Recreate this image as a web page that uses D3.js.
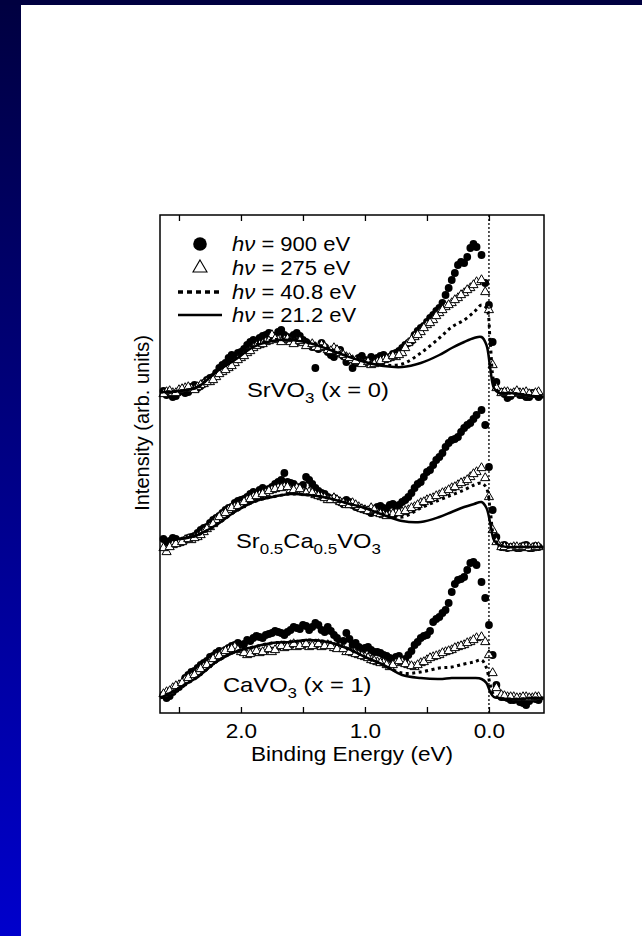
<!DOCTYPE html>
<html>
<head>
<meta charset="utf-8">
<script src="https://cdn.jsdelivr.net/npm/d3@7"></script>
<style>
  body { margin: 0; background: #fff; }
  svg { display: block; font-family: "Liberation Sans", Arial, Helvetica, sans-serif; }
</style>
</head>
<body>
<svg width="642" height="936"></svg>
<script>
// binding energy (eV) of the line spectra (40.8 eV and 21.2 eV)
const lineE = [2.65, 2.50, 2.35, 2.20, 2.05, 1.90, 1.75, 1.60, 1.45, 1.30, 1.15, 1.00, 0.85, 0.70,
               0.55, 0.40, 0.30, 0.20, 0.12, 0.06, 0.02, -0.01, -0.04, -0.08, -0.15, -0.25, -0.35, -0.44];
// binding energy (eV) of the marker spectra (900 eV and 275 eV), two interleaved scans
const markE = [2.60, 2.55, 2.50, 2.45, 2.40, 2.35, 2.30, 2.25, 2.20, 2.15,
               2.10, 2.05, 2.00, 1.95, 1.90, 1.85, 1.80, 1.75, 1.70, 1.65,
               1.60, 1.55, 1.50, 1.45, 1.40, 1.35, 1.30, 1.25, 1.20, 1.15,
               1.10, 1.05, 1.00, 0.95, 0.90, 0.85, 0.80, 0.75, 0.70, 0.65,
               0.60, 0.55, 0.50, 0.45, 0.40, 0.35, 0.30, 0.25, 0.20, 0.15,
               0.10, 0.06, 0.03, 0.00, -0.03, -0.06,
               -0.10, -0.15, -0.20, -0.25, -0.30, -0.35, -0.40];
const markE2 = [2.625, 2.575, 2.525, 2.475, 2.425, 2.375, 2.325, 2.275, 2.225, 2.175,
                2.125, 2.075, 2.025, 1.975, 1.925, 1.875, 1.825, 1.775, 1.725, 1.675,
                1.625, 1.575, 1.525, 1.475, 1.425, 1.375, 1.325, 1.275, 1.225, 1.175,
                1.125, 1.075, 1.025, 0.975, 0.925, 0.875, 0.825, 0.775, 0.725, 0.675,
                0.625, 0.575, 0.525, 0.475, 0.425, 0.375, 0.325, 0.275, 0.225, 0.175,
                0.125,
                -0.125, -0.175, -0.225, -0.275, -0.325, -0.375];

// intensities (arb. units, spectra already offset)
const srvo3_212 = [321,322,326,341,353,366,372,373,370,364,357,351,347,346,350,358,365,371,375,376,368,345,325,320,320,319,317,316];
const srvo3_408 = [321,322,326,342,354,367,373,374,371,365,358,352,348,349,360,375,386,393,401,408,405,371,331,321,320,319,317,316];
const srvo3_275 = [321,320,323,325,324,326,329,331,336,341,
                   345,350,355,360,365,368,371,378,373,373,
                   371,371,370,368,366,368,363,365,360,356,
                   353,351,350,348,351,353,355,356,360,370,
                   376,381,388,393,400,406,410,415,420,425,
                   431,433,421,403,348,325,
                   320,321,320,320,321,318,321];
const srvo3_275b = [319,322,320,324,326,323,328,331,333,339,
                    343,347,353,357,362,367,369,372,374,371,
                    374,369,372,367,369,365,366,362,363,358,
                    355,352,349,351,349,352,354,357,358,365,
                    373,378,385,390,397,403,408,413,418,423,
                    428,
                    321,319,322,320,319,320];
const srvo3_900 = [318,316,321,320,326,325,330,335,340,348,
                   355,356,361,368,373,375,378,376,381,378,
                   375,380,373,368,345,370,361,356,363,351,
                   345,355,353,356,355,358,356,360,365,370,
                   378,385,391,398,405,418,433,448,450,465,
                   466,458,430,408,371,331,
                   321,315,320,318,316,320,316];
const srvo3_900b = [322,319,317,323,321,328,327,333,336,345,
                    350,358,360,364,371,370,377,380,377,383,
                    376,378,377,371,366,364,366,358,360,357,
                    354,350,357,351,354,357,354,359,362,368,
                    372,382,387,395,402,410,425,440,451,456,
                    469,
                    319,317,321,318,316,319];

const sr05_212 = [173,174,178,188,201,211,216,219,218,215,210,205,198,192,191,196,201,206,209,211,205,190,173,168,166,166,166,166];
const sr05_408 = [173,174,178,188,201,211,216,219,218,215,210,205,199,196,205,213,218,223,228,230,225,203,176,169,166,166,166,166];
const sr05_275 = [161,168,170,173,173,176,181,186,193,198,
                  203,206,208,213,216,218,220,223,225,226,
                  223,225,221,221,218,216,213,215,211,208,
                  210,206,203,205,200,198,198,200,201,203,
                  206,210,213,215,218,221,225,228,231,236,
                  241,245,235,216,183,171,
                  166,165,166,165,166,165,166];
const sr05_275b = [165,166,169,171,174,175,178,184,189,196,
                   200,205,207,211,214,217,219,222,224,225,
                   226,223,224,220,220,217,215,213,213,210,
                   208,208,204,202,203,199,197,199,200,202,
                   205,208,211,214,217,220,223,226,230,233,
                   239,
                   166,165,166,166,165,166];
const sr05_900 = [171,175,170,173,176,180,185,190,195,200,
                  205,210,213,216,221,223,221,226,231,240,
                  230,225,228,233,225,220,216,215,211,213,
                  208,205,203,200,206,205,208,206,211,216,
                  225,231,241,248,256,266,273,276,285,290,
                  298,303,288,246,203,176,
                  166,165,166,165,168,165,166];
const sr05_900b = [174,172,174,171,175,177,183,186,193,197,
                   203,206,212,214,219,220,225,224,229,233,
                   231,229,226,236,229,222,219,214,213,209,
                   211,206,204,202,203,207,203,209,208,213,
                   220,229,236,243,253,260,270,274,281,288,
                   294,
                   168,166,165,167,165,167];

const cavo3_212 = [15,25,36,51,61,66,70,71,73,71,65,56,48,38,35,34,35,35,35,34,30,21,16,15,14,14,15,15];
const cavo3_408 = [15,25,36,51,61,66,70,71,73,71,65,56,48,40,41,45,46,49,51,53,45,28,18,15,14,14,15,15];
const cavo3_275 = [21,25,28,33,36,41,46,51,56,60,
                   63,66,61,58,61,60,63,61,66,65,
                   68,66,68,66,68,66,68,65,66,61,
                   60,58,56,53,51,50,46,50,51,48,
                   46,50,53,56,58,61,63,66,68,71,
                   75,76,71,58,40,25,
                   18,16,16,15,16,15,16];
const cavo3_275b = [19,22,27,30,35,38,44,48,54,57,
                    62,64,63,60,59,62,61,64,63,67,
                    66,69,67,69,67,69,67,67,64,64,
                    61,59,57,55,52,50,48,48,52,49,
                    47,48,51,55,57,60,62,65,67,70,
                    73,
                    17,16,15,16,15,16];
const cavo3_900 = [15,21,26,35,41,45,50,56,60,61,
                   65,68,66,73,75,76,78,80,81,78,
                   83,85,88,83,90,83,86,78,71,80,
                   68,66,65,63,61,58,55,56,53,58,
                   68,75,78,91,96,103,121,133,136,150,
                   148,131,115,88,58,28,
                   16,15,13,11,8,15,13];
const cavo3_900b = [18,17,24,29,38,42,48,52,57,62,
                    63,67,70,69,72,77,75,79,82,80,
                    81,86,84,87,86,88,81,82,75,72,
                    74,70,64,66,61,60,57,54,57,54,
                    62,71,77,82,94,100,110,129,134,143,
                    151,
                    16,13,14,10,12,14];

const tickValues = [2.5, 2.0, 1.5, 1.0, 0.5, 0.0];
const labelTicks = [2.0, 1.0, 0.0];
const legendItems = ['900', '275', '40.8', '21.2'];

const margin = {top: 215, right: 98, bottom: 223, left: 160};
const W = 642, H = 936;
const width = W - margin.left - margin.right;
const height = H - margin.top - margin.bottom;
const SX = 1.13; // the original figure is stretched a little sideways

const svg = d3.select('svg');

// slide decoration
const grad = svg.append('defs').append('linearGradient')
    .attr('id', 'side').attr('x1', 0).attr('y1', 0).attr('x2', 0).attr('y2', 1);
grad.append('stop').attr('offset', '0%').attr('stop-color', '#000040');
grad.append('stop').attr('offset', '100%').attr('stop-color', '#0000cc');
svg.append('rect').attr('x', 0).attr('y', 0).attr('width', 21).attr('height', H).attr('fill', 'url(#side)');
svg.append('rect').attr('x', 0).attr('y', 0).attr('width', W).attr('height', 5).attr('fill', '#000040');

const g = svg.append('g').attr('transform', 'translate(' + margin.left + ',' + margin.top + ')');

const x = d3.scaleLinear().domain([2.653, -0.444]).range([0, width]);
const y = d3.scaleLinear().domain([0, height]).range([height, 0]);

const line = d3.line()
    .x(function(d){ return x(d[0]); })
    .y(function(d){ return y(d[1]); })
    .curve(d3.curveCatmullRom.alpha(0.5));

const tri = d3.symbol().type(d3.symbolTriangle).size(36);

const spectra = [
    {c900: d3.zip(markE, srvo3_900).concat(d3.zip(markE2, srvo3_900b)),
     t275: d3.zip(markE, srvo3_275).concat(d3.zip(markE2, srvo3_275b)),
     d408: srvo3_408, s212: srvo3_212},
    {c900: d3.zip(markE, sr05_900).concat(d3.zip(markE2, sr05_900b)),
     t275: d3.zip(markE, sr05_275).concat(d3.zip(markE2, sr05_275b)),
     d408: sr05_408, s212: sr05_212},
    {c900: d3.zip(markE, cavo3_900).concat(d3.zip(markE2, cavo3_900b)),
     t275: d3.zip(markE, cavo3_275).concat(d3.zip(markE2, cavo3_275b)),
     d408: cavo3_408, s212: cavo3_212}
];

const plot = g.append('g');

spectra.forEach(function(s){
    plot.append('g').selectAll('circle')
        .data(s.c900)
        .enter().append('circle')
        .attr('cx', function(d){ return x(d[0]); })
        .attr('cy', function(d){ return y(d[1]); })
        .attr('r', 3.9)
        .attr('fill', '#000');
});

spectra.forEach(function(s){
    plot.append('g').selectAll('path')
        .data(s.t275)
        .enter().append('path')
        .attr('d', tri)
        .attr('transform', function(d){ return 'translate(' + x(d[0]) + ',' + y(d[1]) + ')'; })
        .attr('fill', '#fff')
        .attr('stroke', '#000')
        .attr('stroke-width', 1);
});

spectra.forEach(function(s){
    plot.append('path')
        .datum(d3.zip(lineE, s.d408))
        .attr('d', line)
        .attr('fill', 'none')
        .attr('stroke', '#000')
        .attr('stroke-width', 3)
        .attr('stroke-dasharray', '3,3.5');
    plot.append('path')
        .datum(d3.zip(lineE, s.s212))
        .attr('d', line)
        .attr('fill', 'none')
        .attr('stroke', '#000')
        .attr('stroke-width', 2.5);
});

// Fermi level
g.append('line')
    .attr('x1', x(0)).attr('x2', x(0))
    .attr('y1', 0).attr('y2', height)
    .attr('stroke', '#000')
    .attr('stroke-width', 1.3)
    .attr('stroke-dasharray', '2,2');

// axes, ticks pointing inward
const bottomAxis = g.append('g')
    .attr('transform', 'translate(0,' + height + ')')
    .call(d3.axisBottom(x).tickValues(tickValues).tickSizeInner(-6).tickSizeOuter(0)
        .tickFormat(function(d){ return labelTicks.indexOf(d) >= 0 ? d3.format('.1f')(d) : ''; }));
bottomAxis.select('.domain').remove();
bottomAxis.selectAll('line').attr('stroke-width', 1.3);
bottomAxis.selectAll('text')
    .attr('y', 10.5).attr('dy', '0.71em')
    .attr('font-size', 20)
    .attr('font-family', 'Liberation Sans, Arial, sans-serif')
    .attr('fill', '#000')
    .attr('transform', 'scale(' + SX + ',1)');

const topAxis = g.append('g')
    .call(d3.axisTop(x).tickValues(tickValues).tickSizeInner(-6).tickSizeOuter(0).tickFormat(''));
topAxis.select('.domain').remove();
topAxis.selectAll('line').attr('stroke-width', 1.3);

g.append('rect')
    .attr('width', width).attr('height', height)
    .attr('fill', 'none').attr('stroke', '#000').attr('stroke-width', 1.5);

function stretched(parent, px, py, size) {
    return parent.append('text')
        .attr('transform', 'translate(' + px + ',' + py + ') scale(' + SX + ',1)')
        .attr('font-size', size)
        .attr('fill', '#000');
}

// axis titles
stretched(svg, margin.left + width / 2, 761, 20)
    .attr('text-anchor', 'middle')
    .text('Binding Energy (eV)');

svg.append('text')
    .attr('transform', 'translate(149,423) rotate(-90)')
    .attr('text-anchor', 'middle')
    .attr('font-size', 20)
    .text('Intensity (arb. units)');

// sample labels
const sampleLabels = [
    {x: 247, y: 397, parts: [['SrVO', 0], ['3', 1], [' (x = 0)', 0]]},
    {x: 236, y: 548, parts: [['Sr', 0], ['0.5', 1], ['Ca', 0], ['0.5', 1], ['VO', 0], ['3', 1]]},
    {x: 223, y: 692, parts: [['CaVO', 0], ['3', 1], [' (x = 1)', 0]]}
];
sampleLabels.forEach(function(l){
    const t = stretched(svg, l.x, l.y, 21).attr('xml:space', 'preserve');
    let down = 0;
    l.parts.forEach(function(p){
        const shift = p[1] ? 6 : 0;
        t.append('tspan')
            .attr('dy', shift - down)
            .attr('font-size', p[1] ? 15 : 21)
            .text(p[0]);
        down = shift;
    });
});

// legend
const lg = svg.append('g');
const rows = [244, 268, 292, 315];
lg.append('circle').attr('cx', 200).attr('cy', rows[0]).attr('r', 6.8).attr('fill', '#000');
lg.append('path')
    .attr('d', d3.symbol().type(d3.symbolTriangle).size(85))
    .attr('transform', 'translate(200,' + rows[1] + ')')
    .attr('fill', '#fff').attr('stroke', '#000').attr('stroke-width', 1.1);
lg.append('line').attr('x1', 178).attr('x2', 222).attr('y1', rows[2]).attr('y2', rows[2])
    .attr('stroke', '#000').attr('stroke-width', 3.5).attr('stroke-dasharray', '5,4');
lg.append('line').attr('x1', 178).attr('x2', 222).attr('y1', rows[3]).attr('y2', rows[3])
    .attr('stroke', '#000').attr('stroke-width', 2.5);

legendItems.forEach(function(v, i){
    const t = stretched(lg, 232, rows[i] + 7, 19.5).attr('xml:space', 'preserve');
    t.append('tspan').attr('font-style', 'italic').text('h\u03bd');
    t.append('tspan').text(' = ' + v + ' eV');
});
</script>
</body>
</html>
